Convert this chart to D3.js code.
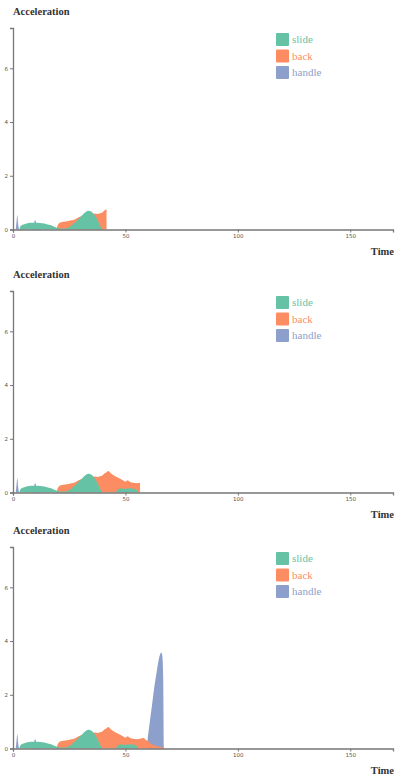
<!DOCTYPE html>
<html>
<head>
<meta charset="utf-8">
<script src="https://cdn.jsdelivr.net/npm/d3@7"></script>
<style>
  html, body { margin: 0; padding: 0; background: #fff; }
  svg { display: block; }
</style>
</head>
<body>
<svg id="chart" width="396" height="780"></svg>
<script>
// ---- data ----
const seriesNames = ["slide", "back", "handle"];
const seriesColors = ["#66c2a5", "#fc8d62", "#8da0cb"];

const slideTime = [2.8, 3.5, 5, 7, 9, 11, 13, 15, 17, 18.7, 20, 22, 24, 25.3, 27, 29, 31, 32.5, 33.5, 34.5, 35.7, 37, 37.9, 39, 39.5, 40, 45.5, 46.5, 48, 50, 52, 54, 55, 55.7, 68];
const slideVals = [0, 0.14, 0.2, 0.24, 0.25, 0.25, 0.23, 0.2, 0.16, 0.09, 0.05, 0.04, 0.05, 0.1, 0.22, 0.38, 0.55, 0.66, 0.7, 0.68, 0.6, 0.45, 0.3, 0.1, 0.02, 0, 0, 0.1, 0.15, 0.14, 0.16, 0.14, 0.09, 0, 0];

const backTime = [19.2, 20, 21, 22.5, 24, 26, 27.5, 29, 31, 33, 35, 36.4, 37.5, 38.5, 39.5, 40.5, 41.6, 42.3, 43.5, 44.6, 45.7, 46.8, 48, 49, 50, 51, 52, 53.5, 55, 56.5, 58, 59, 60, 61, 62, 63, 65, 67];
const backVals = [0, 0.18, 0.26, 0.29, 0.31, 0.34, 0.37, 0.45, 0.5, 0.55, 0.58, 0.6, 0.58, 0.6, 0.62, 0.7, 0.75, 0.8, 0.72, 0.65, 0.6, 0.55, 0.5, 0.45, 0.41, 0.46, 0.4, 0.36, 0.34, 0.36, 0.39, 0.33, 0.28, 0.2, 0.15, 0.11, 0.07, 0.03];

const handleTime = [1.2, 1.6, 1.9, 2.3, 2.8, 8.3, 9.2, 9.8, 10.5, 11.5, 30, 59.3, 60, 61, 61.8, 62.7, 63.8, 64.8, 65.4, 65.9, 66.4, 66.8, 67.1];
const handleVals = [0, 0.3, 0.54, 0.2, 0, 0, 0.15, 0.35, 0.18, 0, 0, 0, 0.45, 1.1, 1.6, 2.2, 2.8, 3.3, 3.5, 3.57, 3.45, 2.6, 0];

// time up to which each of the three snapshots is drawn
const snapshotEnd = [42, 57, 68];
const xTicks = [0, 50, 100, 150];
const yTicks = [0, 2, 4, 6];
const xDomain = [0, 169];
const yDomain = [0, 7.5];

// ---- layout ----
const offsets = [0, 263, 519];
const svg = d3.select("#chart");

const x = d3.scaleLinear().domain(xDomain).range([13, 393]);
const y = d3.scaleLinear().domain(yDomain).range([229.5, 28]);

const seriesData = {
  slide: slideTime.map((t, i) => ({t, v: slideVals[i]})),
  back: backTime.map((t, i) => ({t, v: backVals[i]})),
  handle: handleTime.map((t, i) => ({t, v: handleVals[i]}))
};

const area = d3.area()
  .x(d => x(d.t))
  .y0(y(0))
  .y1(d => y(d.v))
  .curve(d3.curveMonotoneX);

const drawOrder = ["handle", "back", "slide"];

snapshotEnd.forEach((end, k) => {
  const g = svg.append("g").attr("transform", `translate(0,${offsets[k]})`);

  drawOrder.forEach(name => {
    const pts = seriesData[name].filter(d => d.t <= end);
    g.append("path")
      .attr("d", area(pts))
      .attr("fill", seriesColors[seriesNames.indexOf(name)]);
  });

  const xAxis = g.append("g")
    .attr("transform", `translate(0,${y(0)})`)
    .call(d3.axisBottom(x).tickValues(xTicks).tickSize(3));
  const yAxis = g.append("g")
    .attr("transform", `translate(${x(0)},0)`)
    .call(d3.axisLeft(y).tickValues(yTicks).tickSize(3));
  [xAxis, yAxis].forEach(a => {
    a.select(".domain").attr("stroke", "#777").attr("stroke-width", 1.3);
    a.selectAll(".tick line").attr("stroke", "#777");
    a.selectAll(".tick text").attr("fill", "#555").style("font-size", "5.5px")
      .style("font-family", "'DejaVu Sans', sans-serif");
  });
  xAxis.selectAll(".tick text").attr("y", 5);
  yAxis.selectAll(".tick text").attr("x", -5);

  g.append("text")
    .attr("x", 13).attr("y", 15)
    .style("font-family", "'Liberation Serif', serif")
    .style("font-size", "10.5px")
    .style("font-weight", "bold")
    .attr("fill", "#333")
    .text("Acceleration");

  g.append("text")
    .attr("x", 394).attr("y", 254.5)
    .attr("text-anchor", "end")
    .style("font-family", "'Liberation Serif', serif")
    .style("font-size", "10.5px")
    .style("font-weight", "bold")
    .attr("fill", "#333")
    .text("Time");

  const leg = g.append("g");
  seriesNames.forEach((name, i) => {
    leg.append("rect")
      .attr("x", 276).attr("y", 33 + i * 16.5)
      .attr("width", 13).attr("height", 13).attr("rx", 1)
      .attr("fill", seriesColors[i]);
    leg.append("text")
      .attr("x", 292).attr("y", 43 + i * 16.5)
      .style("font-family", "'Liberation Serif', serif")
      .style("font-size", "11px")
      .attr("fill", seriesColors[i])
      .text(name);
  });
});
</script>
</body>
</html>
